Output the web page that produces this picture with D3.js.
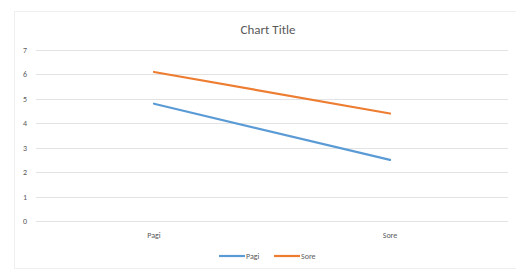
<!DOCTYPE html>
<html>
<head>
<meta charset="utf-8">
<script src="https://cdn.jsdelivr.net/npm/d3@7"></script>
<style>
  body { margin: 0; background: #fff; }
  svg text { font-family: Calibri, "Liberation Sans", "DejaVu Sans", sans-serif; fill: #595959; }
</style>
</head>
<body>
<script>
var categories = ['Pagi', 'Sore'];
var seriesNames = ['Pagi', 'Sore'];
var pagiValues = [4.8, 2.5];
var soreValues = [6.1, 4.4];
var yTicks = [0, 1, 2, 3, 4, 5, 6, 7];
var colors = ['#5B9BD5', '#ED7D31'];

var width = 516, height = 271;
var margin = {left: 36, right: 8, top: 50, bottom: 50};

var svg = d3.select('body').append('svg')
    .attr('width', width)
    .attr('height', height);

// chart border (right edge falls outside the picture)
svg.append('rect')
    .attr('x', 14.5).attr('y', 11.5)
    .attr('width', width + 10).attr('height', height - 14)
    .attr('fill', 'none').attr('stroke', '#EFEFEF');

var x = d3.scaleBand()
    .domain(categories)
    .range([margin.left, width - margin.right]);

var y = d3.scaleLinear()
    .domain([0, 7])
    .range([221, 50]);

// gridlines
svg.append('g').selectAll('line')
    .data(yTicks).enter().append('line')
    .attr('x1', margin.left).attr('x2', width - margin.right)
    .attr('y1', function(d) { return Math.round(y(d)) + 0.5; })
    .attr('y2', function(d) { return Math.round(y(d)) + 0.5; })
    .attr('stroke', '#E3E3E3');

// y labels
svg.append('g').selectAll('text')
    .data(yTicks).enter().append('text')
    .attr('x', 25).attr('y', function(d) { return y(d) + 3; })
    .attr('text-anchor', 'middle')
    .attr('font-size', 8)
    .text(function(d) { return d; });

// x labels
svg.append('g').selectAll('text')
    .data(categories).enter().append('text')
    .attr('x', function(d) { return x(d) + x.bandwidth() / 2; })
    .attr('y', 238)
    .attr('text-anchor', 'middle')
    .attr('font-size', 8)
    .text(function(d) { return d; });

// title
svg.append('text')
    .attr('x', 268).attr('y', 34)
    .attr('text-anchor', 'middle')
    .attr('font-size', 13)
    .text('Chart Title');

var line = d3.line()
    .x(function(d, i) { return x(categories[i]) + x.bandwidth() / 2; })
    .y(function(d) { return y(d); });

[pagiValues, soreValues].forEach(function(vals, i) {
    svg.append('path')
        .datum(vals)
        .attr('d', line)
        .attr('fill', 'none')
        .attr('stroke', colors[i])
        .attr('stroke-width', 2.2)
        .attr('stroke-linecap', 'round');
});

// legend
var legend = svg.append('g');
var lx = [219, 274];
seriesNames.forEach(function(name, i) {
    legend.append('line')
        .attr('x1', lx[i]).attr('x2', lx[i] + 26)
        .attr('y1', 256).attr('y2', 256)
        .attr('stroke', colors[i]).attr('stroke-width', 2.2);
    legend.append('text')
        .attr('x', lx[i] + 27).attr('y', 259)
        .attr('font-size', 8)
        .text(name);
});
</script>
</body>
</html>
